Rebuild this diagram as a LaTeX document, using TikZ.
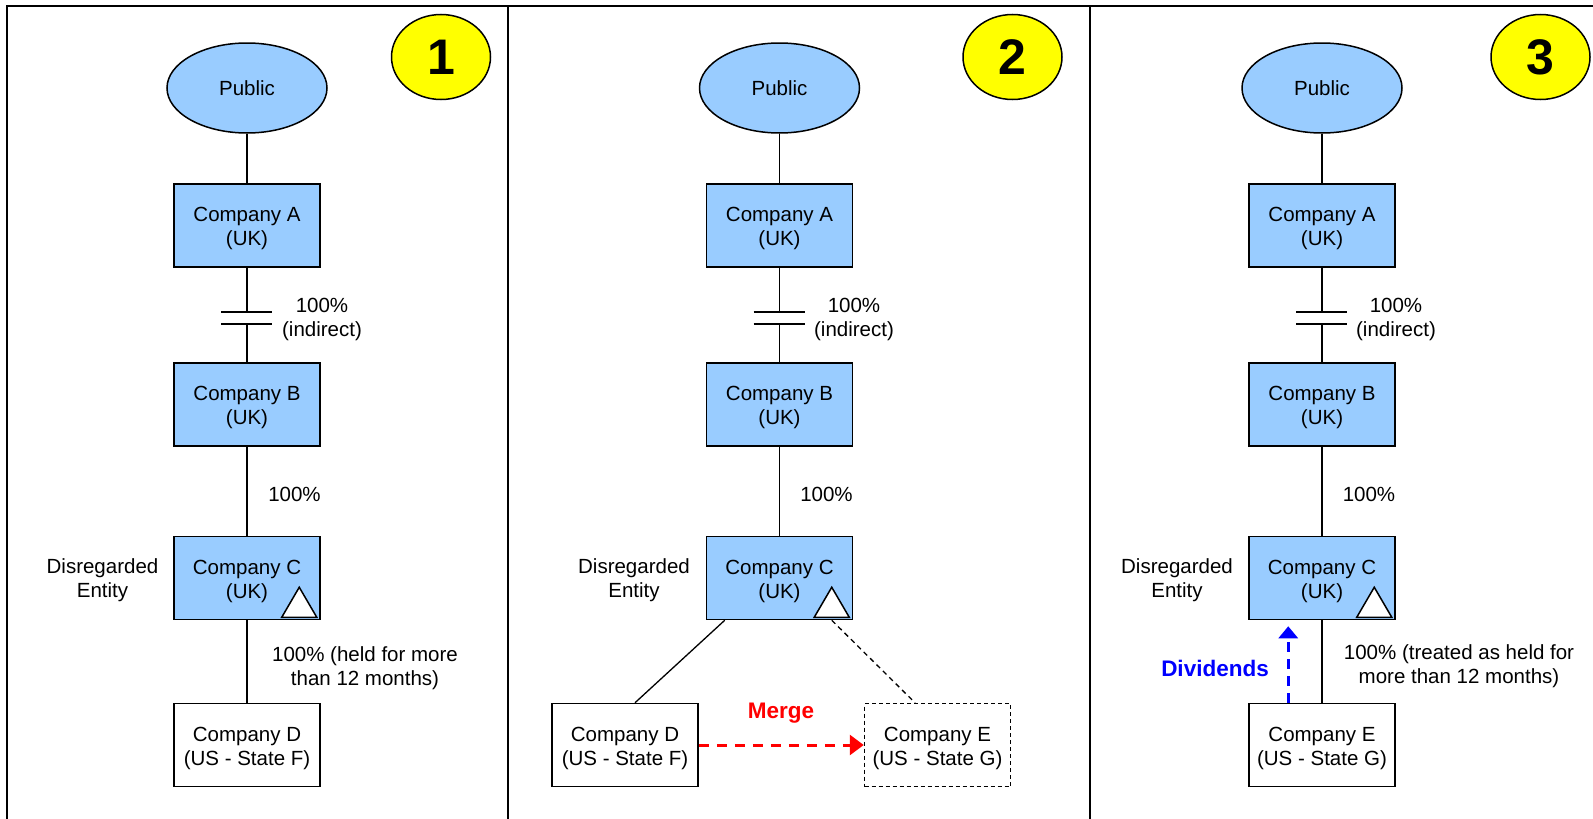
\documentclass[tikz,border=0pt]{standalone}
\usepackage{fontspec}
\setmainfont{Liberation Sans}
\usepackage{xcolor}
\usepackage{tikz}
\usetikzlibrary{shapes.geometric, arrows.meta, positioning, calc}
\definecolor{BoxBlue}{RGB}{153, 204, 255}
\definecolor{NumYellow}{RGB}{255, 255, 0}

\begin{document}
\begin{tikzpicture}[x=1pt, y=-1pt, font=\fontsize{20.5}{24}\selectfont,
    firm/.style={draw, fill=BoxBlue, line width=1.5pt, minimum width=146pt, minimum height=83pt, inner sep=0pt, align=center, text height=42pt, text depth=2pt},
    usfirm/.style={firm, fill=white},
    pubell/.style={ellipse, draw, fill=BoxBlue, line width=1.5pt, minimum width=160pt, minimum height=90pt, inner sep=0pt},
    numball/.style={ellipse, draw, fill=NumYellow, line width=1.5pt, minimum width=99pt, minimum height=85pt, inner sep=0pt, font=\fontsize{50}{50}\selectfont\bfseries},
    link/.style={line width=1.3pt},
    note/.style={align=center, inner sep=0pt},
    frame/.style={line width=2.5pt},
    dtri/.style={draw, fill=white, line width=1.5pt, line join=miter},
    flowlbl/.style={inner sep=0pt, font=\fontsize{22.5}{26}\selectfont\bfseries}]
    \useasboundingbox (0,0) rectangle (1593,819);

    % Rahmen und Trennlinien
    \draw[frame] (7,819) -- (7,6) -- (1593,6);
    \draw[frame] (508,6) -- (508,819);
    \draw[frame] (1090,6) -- (1090,819);

    % Schritt 1
    \node[pubell] (pub1) at (247,88) {Public};
    \node[numball] (num1) at (441,57) {1};
    \node[firm] (a1) at (247,225.5) {Company A\\(UK)};
    \node[firm] (b1) at (247,404.5) {Company B\\(UK)};
    \node[firm] (c1) at (247,578) {Company C\\(UK)};
    \node[usfirm] (d1) at (247,745) {Company D\\(US - State F)};
    \coordinate (k1t) at (247,312);
    \coordinate (k1b) at (247,324);
    \draw[link] (pub1) -- (a1);
    \draw[link] (a1) -- (k1t);
    \draw[link] (k1b) -- (b1);
    \draw[link] ([xshift=-26pt]k1t) -- ([xshift=25pt]k1t);
    \draw[link] ([xshift=-26pt]k1b) -- ([xshift=25pt]k1b);
    \draw[link] (b1) -- (c1);
    \draw[link] (c1) -- (d1);
    \node[note] (ind1) at (322,319) {100\%\\(indirect)};
    \node[note] (pct1) at (294.5,494) {100\%};
    \node[note] (dis1) at (102.5,580) {Disregarded\\Entity};
    \node[note] (held1) at (365,668) {100\% (held for more\\than 12 months)};
    \draw[dtri] ([xshift=-39pt,yshift=3pt]c1.south east) -- ([xshift=-4pt,yshift=3pt]c1.south east) -- ([xshift=-21.5pt,yshift=33pt]c1.south east) -- cycle;

    % Schritt 2
    \node[pubell] (pub2) at (779.5,88) {Public};
    \node[numball] (num2) at (1012.5,57) {2};
    \node[firm] (a2) at (779.5,225.5) {Company A\\(UK)};
    \node[firm] (b2) at (779.5,404.5) {Company B\\(UK)};
    \node[firm] (c2) at (779.5,578) {Company C\\(UK)};
    \node[usfirm] (d2) at (625,745) {Company D\\(US - State F)};
    \node[usfirm, dash pattern=on 4pt off 3pt] (e2) at (937.5,745) {Company E\\(US - State G)};
    \coordinate (k2t) at (779.5,312);
    \coordinate (k2b) at (779.5,324);
    \draw[link] (pub2) -- (a2);
    \draw[link] (a2) -- (k2t);
    \draw[link] (k2b) -- (b2);
    \draw[link] ([xshift=-26pt]k2t) -- ([xshift=25pt]k2t);
    \draw[link] ([xshift=-26pt]k2b) -- ([xshift=25pt]k2b);
    \draw[link] (b2) -- (c2);
    \draw[link] ([xshift=19pt]c2.south west) -- ([xshift=10pt]d2.north);
    \draw[link, dash pattern=on 5pt off 4pt] ([xshift=-21.5pt]c2.south east) -- ([xshift=-22.5pt]e2.north);
    \node[note] (ind2) at (854,319) {100\%\\(indirect)};
    \node[note] (pct2) at (826.5,494) {100\%};
    \node[note] (dis2) at (634,580) {Disregarded\\Entity};
    \draw[dtri] ([xshift=-39pt,yshift=3pt]c2.south east) -- ([xshift=-4pt,yshift=3pt]c2.south east) -- ([xshift=-21.5pt,yshift=33pt]c2.south east) -- cycle;
    \draw[red, line width=3pt, dash pattern=on 10pt off 8pt, -{Triangle[length=14pt, width=20pt]}] (d2) -- (e2);
    \node[flowlbl, text=red] (mrg) at (781,713) {Merge};

    % Schritt 3
    \node[pubell] (pub3) at (1322,88) {Public};
    \node[numball] (num3) at (1540.5,57) {3};
    \node[firm] (a3) at (1322,225.5) {Company A\\(UK)};
    \node[firm] (b3) at (1322,404.5) {Company B\\(UK)};
    \node[firm] (c3) at (1322,578) {Company C\\(UK)};
    \node[usfirm] (e3) at (1322,745) {Company E\\(US - State G)};
    \coordinate (k3t) at (1322,312);
    \coordinate (k3b) at (1322,324);
    \draw[link] (pub3) -- (a3);
    \draw[link] (a3) -- (k3t);
    \draw[link] (k3b) -- (b3);
    \draw[link] ([xshift=-26pt]k3t) -- ([xshift=25pt]k3t);
    \draw[link] ([xshift=-26pt]k3b) -- ([xshift=25pt]k3b);
    \draw[link] (b3) -- (c3);
    \draw[link] (c3) -- (e3);
    \node[note] (ind3) at (1396,319) {100\%\\(indirect)};
    \node[note] (pct3) at (1369,494) {100\%};
    \node[note] (dis3) at (1177,580) {Disregarded\\Entity};
    \node[note] (held3) at (1459,666) {100\% (treated as held for\\more than 12 months)};
    \draw[dtri] ([xshift=-39pt,yshift=3pt]c3.south east) -- ([xshift=-4pt,yshift=3pt]c3.south east) -- ([xshift=-21.5pt,yshift=33pt]c3.south east) -- cycle;
    \draw[blue, line width=3pt, dash pattern=on 10pt off 7pt, -{Triangle[length=12pt, width=19pt]}] ([xshift=40pt]e3.north west) -- ([xshift=40pt,yshift=-6pt]c3.south west);
    \node[flowlbl, text=blue] (div) at (1215,668) {Dividends};
\end{tikzpicture}
\end{document}
